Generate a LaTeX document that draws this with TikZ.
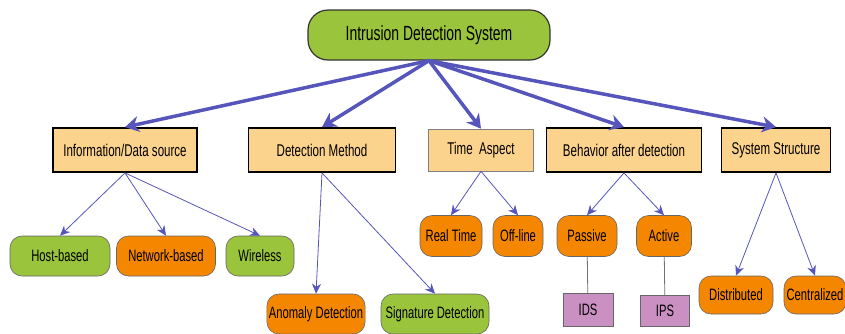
\documentclass[tikz,border=0pt]{standalone}
\usepackage{fontspec}
\setmainfont{Liberation Sans}[FakeStretch=0.68]
\usetikzlibrary{arrows.meta}
\definecolor{grass}{RGB}{153,196,59}
\definecolor{tangerine}{RGB}{245,134,0}
\definecolor{sand}{RGB}{252,211,140}
\definecolor{mauve}{RGB}{201,144,193}
\definecolor{arrowblue}{RGB}{85,85,187}
\begin{document}
\begin{tikzpicture}[x=1pt, y=-1pt]
      \tikzstyle{root}=[draw=black!80, line width=1.2pt, fill=grass, rounded corners=20pt, minimum height=50pt, minimum width=242pt, font=\fontsize{20.5}{23}\selectfont]
      \tikzstyle{cat}=[draw=black, line width=1.8pt, fill=sand, minimum height=44pt, inner sep=2pt, font=\fontsize{17}{20}\selectfont]
      \tikzstyle{item}=[draw=black!60, line width=0.6pt, rounded corners=12pt, minimum height=40pt, inner sep=2pt, font=\fontsize{16.5}{19}\selectfont]
      \tikzstyle{g}=[fill=grass]
      \tikzstyle{o}=[fill=tangerine]
      \tikzstyle{prod}=[draw=black!60, line width=0.6pt, fill=mauve, minimum width=50pt, minimum height=32pt, font=\fontsize{16.5}{19}\selectfont]
      \tikzstyle{big}=[draw=arrowblue, line width=3.5pt, -{Stealth[length=14pt, width=16pt]}]
      \tikzstyle{small}=[draw=arrowblue, line width=0.8pt, -{Stealth[length=10pt, width=9pt]}]
      \useasboundingbox (0,0) rectangle (845,333);
      \node[root] (ids) at (429,35) {Intrusion Detection System};
      \node[cat, minimum width=144] (info) at (125,150) {Information/Data source};
      \node[cat, minimum width=147] (method) at (322,150) {Detection Method};
      \node[cat, minimum width=105, minimum height=42, draw=black!50, line width=0.6pt] (time) at (481,150) {Time~~Aspect};
      \node[cat, minimum width=155] (behav) at (624,150) {Behavior after detection};
      \node[cat, minimum width=109] (struct) at (776,150) {System Structure};
      \node[item, g, minimum width=100] (host) at (60,256) {Host-based};
      \node[item, o, minimum width=99] (network) at (166,256) {Network-based};
      \node[item, g, minimum width=68] (wireless) at (260,256) {Wireless};
      \node[item, o, minimum width=98] (anomaly) at (316,314) {Anomaly Detection};
      \node[item, g, minimum width=108] (signature) at (435,314) {Signature Detection};
      \node[item, o, minimum width=62, minimum height=41] (realtime) at (451,236) {Real Time};
      \node[item, o, minimum width=50, minimum height=41] (offline) at (518,236) {Off-line};
      \node[item, o, minimum width=60, minimum height=41] (passive) at (587,236) {Passive};
      \node[item, o, minimum width=55, minimum height=41] (active) at (664,236) {Active};
      \node[prod, minimum height=33] (idsbox) at (588,310) {IDS};
      \node[prod, minimum width=49, minimum height=31] (ipsbox) at (665,311) {IPS};
      \node[item, o, minimum width=74, minimum height=38] (distributed) at (736,295) {Distributed};
      \node[item, o, minimum width=62, minimum height=38] (centralized) at (815,295) {Centralized};

      \foreach \dst in {info, method, time, behav, struct} {%
        \draw[big] (ids.south) to (\dst.north);
      }
      \foreach \src/\dst in {info/host, info/network, info/wireless,
                             method/anomaly, method/signature,
                             time/realtime, time/offline,
                             behav/passive, behav/active,
                             struct/distributed, struct/centralized} {%
        \draw[small] (\src.south) to (\dst.north);
      }
      \draw[black!55, line width=0.8pt] (passive) -- (idsbox);
      \draw[black!55, line width=0.8pt] (active) -- (ipsbox);
    \end{tikzpicture}
\end{document}
